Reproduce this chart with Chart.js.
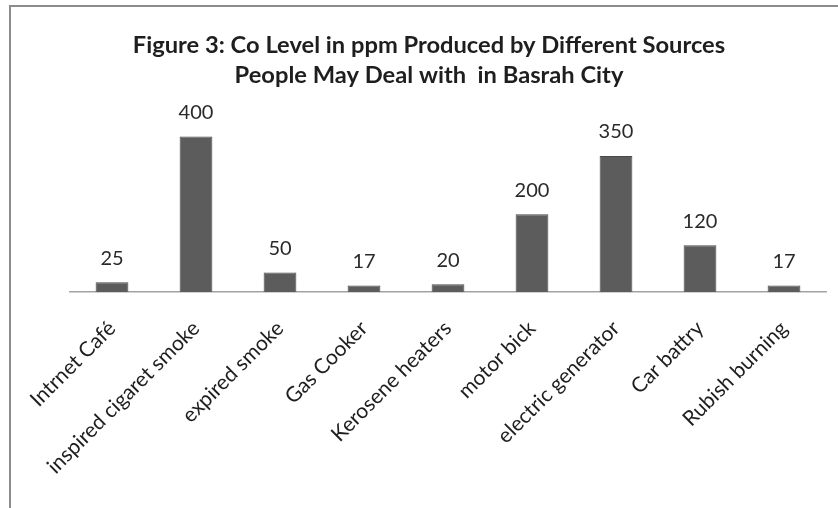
<!DOCTYPE html>
<html>
<head>
<meta charset="utf-8">
<script src="https://cdn.jsdelivr.net/npm/chart.js@4/dist/chart.umd.min.js"></script>
<style>
  html, body { margin: 0; padding: 0; background: #fff; }
  #wrap { width: 838px; height: 508px; position: relative; }
</style>
</head>
<body>
<div id="wrap"><canvas id="c" width="838" height="508"></canvas></div>
<script>
// CO levels (ppm) by source
const categories = [
  "Intrnet Café",
  "inspired cigaret smoke",
  "expired smoke",
  "Gas Cooker",
  "Kerosene heaters",
  "motor bick",
  "electric generator",
  "Car battry",
  "Rubish burning"
];
const coLevels = [25, 400, 50, 17, 20, 200, 350, 120, 17];
const titleLines = [
  "Figure 3: Co Level in ppm Produced by Different Sources",
  "People May Deal with  in Basrah City"
];

const FONT = "Lato, 'Open Sans', sans-serif";

// Frame lines along the left and top edges
const framePlugin = {
  id: 'frame',
  beforeDraw(chart) {
    const ctx = chart.ctx;
    ctx.save();
    ctx.fillStyle = '#ffffff';
    ctx.fillRect(0, 0, chart.width, chart.height);
    ctx.strokeStyle = '#8c8c8c';
    ctx.lineWidth = 2;
    ctx.beginPath();
    ctx.moveTo(10, chart.height);
    ctx.lineTo(10, 6);
    ctx.lineTo(chart.width, 6);
    ctx.stroke();
    ctx.restore();
  }
};

// Two-line heading, centred over the whole framed figure
const headingPlugin = {
  id: 'heading',
  afterDraw(chart) {
    const ctx = chart.ctx;
    ctx.save();
    ctx.font = "bold 23.7px " + FONT;
    ctx.fillStyle = '#1e1e1e';
    ctx.textAlign = 'center';
    ctx.textBaseline = 'middle';
    titleLines.forEach((line, i) => {
      ctx.fillText(line, 429, 45 + i * 30);
    });
    ctx.restore();
  }
};

// Value printed above each bar
const valueLabels = {
  id: 'valueLabels',
  afterDatasetsDraw(chart) {
    const ctx = chart.ctx;
    const meta = chart.getDatasetMeta(0);
    const data = chart.data.datasets[0].data;
    ctx.save();
    ctx.font = "20px " + FONT;
    ctx.fillStyle = '#2a2a2a';
    ctx.textAlign = 'center';
    ctx.textBaseline = 'middle';
    meta.data.forEach((bar, i) => {
      ctx.fillText(String(data[i]), bar.x, bar.y - 24);
    });
    ctx.restore();
  }
};

new Chart(document.getElementById('c'), {
  type: 'bar',
  data: {
    labels: categories,
    datasets: [{
      data: coLevels,
      backgroundColor: '#5c5c5c',
      borderColor: '#4a4a4a',
      borderWidth: 1,
      categoryPercentage: 1,
      barPercentage: 0.39
    }]
  },
  options: {
    responsive: false,
    animation: false,
    layout: { padding: { left: 70, right: 12, top: 117, bottom: 0 } },
    plugins: {
      legend: { display: false },
      tooltip: { enabled: false },
      title: { display: false }
    },
    scales: {
      y: {
        display: false,
        min: 0,
        max: 450
      },
      x: {
        grid: { display: false, drawTicks: false },
        border: { display: true, color: '#a3a3a3', width: 1.5 },
        ticks: {
          minRotation: 45,
          maxRotation: 45,
          autoSkip: false,
          padding: 24,
          color: '#1e1e1e',
          font: { family: FONT, size: 21 }
        },
        afterFit(scale) { scale.height = 216; }
      }
    }
  },
  plugins: [framePlugin, headingPlugin, valueLabels]
});
</script>
</body>
</html>
